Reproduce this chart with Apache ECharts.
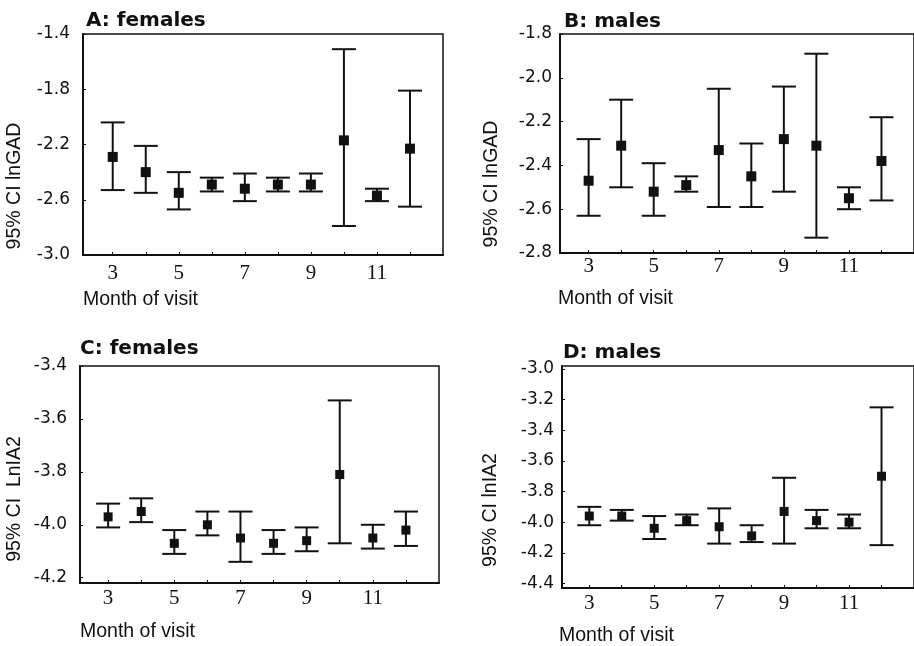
<!DOCTYPE html>
<html>
<head>
<meta charset="utf-8">
<script src="https://cdn.jsdelivr.net/npm/echarts@6/dist/echarts.min.js"></script>
<style>
  html, body { margin: 0; padding: 0; background: #fff; }
  #chart { width: 914px; height: 646px; }
</style>
</head>
<body>
<div id="chart"></div>
<script>
// Month of visit (x) shared by all four panels
const months = [3, 4, 5, 6, 7, 8, 9, 10, 11, 12];
const monthLabels = [3, 5, 7, 9, 11];

// A: females, lnGAD (mean with 95% CI)
const aMean = [-2.29, -2.40, -2.55, -2.49, -2.52, -2.49, -2.49, -2.17, -2.57, -2.23];
const aLow  = [-2.53, -2.55, -2.67, -2.54, -2.61, -2.54, -2.54, -2.79, -2.61, -2.65];
const aHigh = [-2.04, -2.21, -2.40, -2.44, -2.41, -2.44, -2.41, -1.51, -2.52, -1.81];
const aTicks = [-3.0, -2.6, -2.2, -1.8, -1.4];

// B: males, lnGAD
const bMean = [-2.47, -2.31, -2.52, -2.49, -2.33, -2.45, -2.28, -2.31, -2.55, -2.38];
const bLow  = [-2.63, -2.50, -2.63, -2.52, -2.59, -2.59, -2.52, -2.73, -2.60, -2.56];
const bHigh = [-2.28, -2.10, -2.39, -2.45, -2.05, -2.30, -2.04, -1.89, -2.50, -2.18];
const bTicks = [-2.8, -2.6, -2.4, -2.2, -2.0, -1.8];

// C: females, LnIA2
const cMean = [-3.97, -3.95, -4.07, -4.00, -4.05, -4.07, -4.06, -3.81, -4.05, -4.02];
const cLow  = [-4.01, -3.99, -4.11, -4.04, -4.14, -4.11, -4.10, -4.07, -4.09, -4.08];
const cHigh = [-3.92, -3.90, -4.02, -3.95, -3.95, -4.02, -4.01, -3.53, -4.00, -3.95];
const cTicks = [-4.2, -4.0, -3.8, -3.6, -3.4];

// D: males, lnIA2
const dMean = [-3.96, -3.96, -4.04, -3.99, -4.03, -4.09, -3.93, -3.99, -4.00, -3.70];
const dLow  = [-4.02, -3.99, -4.11, -4.02, -4.14, -4.13, -4.14, -4.04, -4.04, -4.15];
const dHigh = [-3.90, -3.92, -3.96, -3.95, -3.91, -4.02, -3.71, -3.92, -3.95, -3.25];
const dTicks = [-4.4, -4.2, -4.0, -3.8, -3.6, -3.4, -3.2, -3.0];

const INK = '#111';

const panels = [
  { grid: { left: 83, top: 34, width: 360, height: 221 }, xMin: 2.1, yMin: -3.0, yMax: -1.4,
    ticks: aTicks, mean: aMean, low: aLow, high: aHigh, xMargin: 8, yMargin: 13, sym: 10 },
  { grid: { left: 560, top: 34, width: 358, height: 219 }, xMin: 2.12, yMin: -2.8, yMax: -1.8,
    ticks: bTicks, mean: bMean, low: bLow, high: bHigh, xMargin: 3, yMargin: 8, sym: 10 },
  { grid: { left: 80, top: 366, width: 359, height: 217 }, xMin: 2.15, yMin: -4.22, yMax: -3.4,
    ticks: cTicks, mean: cMean, low: cLow, high: cHigh, xMargin: 5, yMargin: 13, sym: 9 },
  { grid: { left: 562, top: 366, width: 356, height: 222 }, xMin: 2.16, yMin: -4.43, yMax: -2.98,
    ticks: dTicks, mean: dMean, low: dLow, high: dHigh, xMargin: 5, yMargin: 8, sym: 9 }
];

const grids = [], xAxes = [], yAxes = [], series = [];

panels.forEach((p, i) => {
  grids.push(Object.assign({ show: true, borderColor: INK, borderWidth: 1.5, backgroundColor: 'transparent' }, p.grid));
  xAxes.push({
    type: 'value', gridIndex: i, min: p.xMin, max: 13,
    splitLine: { show: false },
    axisLine: { show: true, onZero: false, lineStyle: { color: INK, width: 2 } },
    axisTick: { show: true, inside: true, length: 3, customValues: months, lineStyle: { color: INK } },
    axisLabel: { customValues: monthLabels, margin: p.xMargin, color: INK,
      fontFamily: 'Liberation Serif', fontSize: 21 }
  });
  yAxes.push({
    type: 'value', gridIndex: i, min: p.yMin, max: p.yMax,
    splitLine: { show: false },
    axisLine: { show: true, onZero: false, lineStyle: { color: INK, width: 2 } },
    axisTick: { show: true, inside: true, length: 3, customValues: p.ticks, lineStyle: { color: INK } },
    axisLabel: {
      customValues: p.ticks, margin: p.yMargin, color: INK,
      fontFamily: 'DejaVu Sans', fontSize: 17,
      showMinLabel: true, showMaxLabel: true,
      formatter: v => v.toFixed(1)
    }
  });

  // 95% CI whiskers with caps
  series.push({
    type: 'custom', xAxisIndex: i, yAxisIndex: i, clip: false,
    data: months.map((m, k) => [m, p.low[k], p.high[k]]),
    renderItem: (params, api) => {
      const a = api.coord([api.value(0), api.value(1)]);
      const b = api.coord([api.value(0), api.value(2)]);
      const half = 12;
      const style = { stroke: INK, lineWidth: 2 };
      return {
        type: 'group',
        children: [
          { type: 'line', shape: { x1: a[0], y1: a[1], x2: b[0], y2: b[1] }, style },
          { type: 'line', shape: { x1: b[0] - half, y1: b[1], x2: b[0] + half, y2: b[1] }, style },
          { type: 'line', shape: { x1: a[0] - half, y1: a[1], x2: a[0] + half, y2: a[1] }, style }
        ]
      };
    }
  });

  // group means
  series.push({
    type: 'scatter', xAxisIndex: i, yAxisIndex: i,
    symbol: 'rect', symbolSize: p.sym,
    itemStyle: { color: INK, opacity: 1 },
    data: months.map((m, k) => [m, p.mean[k]]),
    z: 5
  });
});

const txt = (x, y, text, extra) => ({
  type: 'text', x, y,
  style: Object.assign({ text, fill: INK, fontFamily: 'Liberation Sans', fontSize: 19.5,
    textAlign: 'left', textVerticalAlign: 'middle' }, extra || {})
});
const title = (x, y, text) => txt(x, y, text,
  { fontFamily: 'DejaVu Sans', fontWeight: 'bold', fontSize: 20 });
const yName = (x, y, text) => Object.assign(txt(x, y, text, { textAlign: 'center' }), { rotation: Math.PI / 2 });

const chart = echarts.init(document.getElementById('chart'), null, { renderer: 'canvas' });
chart.setOption({
  backgroundColor: '#fff',
  animation: false,
  grid: grids,
  xAxis: xAxes,
  yAxis: yAxes,
  series,
  graphic: [
    title(86, 21, 'A: females'),
    title(564, 22, 'B: males'),
    title(80, 349, 'C: females'),
    title(563, 353, 'D: males'),
    txt(83, 300, 'Month of visit'),
    txt(558, 299, 'Month of visit'),
    txt(80, 632, 'Month of visit'),
    txt(559, 636, 'Month of visit'),
    yName(15, 186, '95% CI lnGAD'),
    yName(492, 184, '95% CI lnGAD'),
    yName(15, 499, '95% CI  LnIA2'),
    yName(491, 510, '95% CI lnIA2')
  ]
});
</script>
</body>
</html>
